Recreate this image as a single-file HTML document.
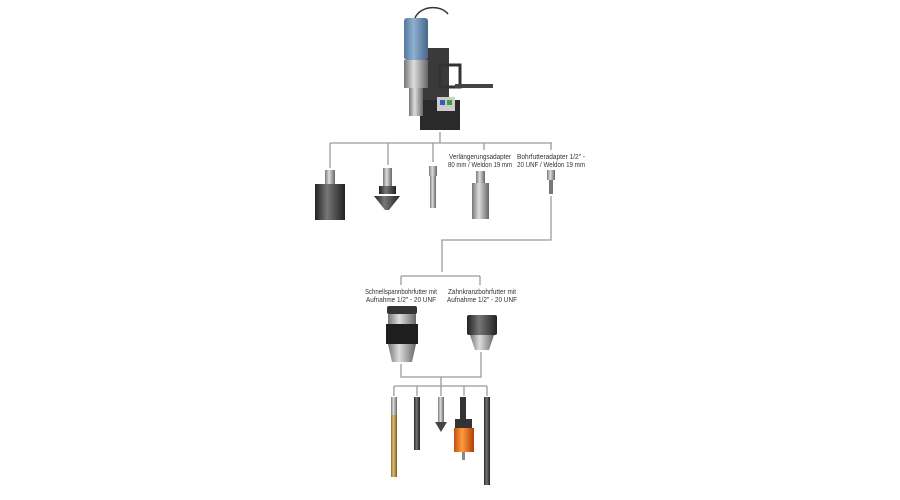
<!DOCTYPE html>
<html><head><meta charset="utf-8"><style>
html,body{margin:0;padding:0;background:#fff;}
svg{display:block}
text{font-family:"Liberation Sans",sans-serif;font-size:7px;fill:#333;text-anchor:middle}
</style></head><body>
<svg width="900" height="500" viewBox="0 0 900 500" xmlns="http://www.w3.org/2000/svg">
<defs>
<linearGradient id="st" x1="0" x2="1"><stop offset="0" stop-color="#777"/><stop offset=".4" stop-color="#ddd"/><stop offset="1" stop-color="#666"/></linearGradient>
<linearGradient id="dk" x1="0" x2="1"><stop offset="0" stop-color="#222"/><stop offset=".4" stop-color="#777"/><stop offset="1" stop-color="#222"/></linearGradient>
<linearGradient id="bl" x1="0" x2="1"><stop offset="0" stop-color="#5578a0"/><stop offset=".4" stop-color="#8fb0d0"/><stop offset="1" stop-color="#45658a"/></linearGradient>
<linearGradient id="gd" x1="0" x2="1"><stop offset="0" stop-color="#8a6a2a"/><stop offset=".4" stop-color="#e0c070"/><stop offset="1" stop-color="#7a5a20"/></linearGradient>
<linearGradient id="or" x1="0" x2="1"><stop offset="0" stop-color="#c05010"/><stop offset=".4" stop-color="#ff9a40"/><stop offset="1" stop-color="#b04000"/></linearGradient>
</defs>
<g stroke="#9a9a9a" stroke-width="1.3" fill="none">
<path d="M440 132V143M330 143H552M330 143V168M388 143V165M433 143V162M484 143V150M551 143V150"/>
<path d="M551 196V240H442V272M401 276H480M401 276V285M480 276V285"/>
<path d="M401 364V377H481V352M441 377V386M394 386H487M394 386V396M417 386V396M441 386V396M464 386V396M487 386V396"/>
</g>
<!-- drill machine -->
<path d="M415 18 C420 6 440 4 448 14" stroke="#333" stroke-width="1.5" fill="none"/>
<rect x="423" y="48" width="26" height="80" fill="#3a3a3a"/>
<path d="M440 65 h20 v22 h-20z" fill="none" stroke="#333" stroke-width="3"/>
<rect x="455" y="84" width="38" height="4" fill="#444"/>
<rect x="420" y="100" width="40" height="30" fill="#2a2a2a"/>
<rect x="437" y="97" width="18" height="14" fill="#ccc"/>
<rect x="440" y="100" width="5" height="5" fill="#3060b0"/><rect x="447" y="100" width="5" height="5" fill="#40a040"/>
<rect x="404" y="18" width="24" height="42" rx="3" fill="url(#bl)"/>
<rect x="404" y="60" width="24" height="28" fill="url(#st)"/>
<rect x="409" y="88" width="14" height="28" fill="url(#st)"/>
<!-- row 1 tools -->
<rect x="325" y="170" width="10" height="14" fill="url(#st)"/>
<rect x="315" y="184" width="30" height="36" fill="url(#dk)"/>
<rect x="383" y="168" width="9" height="18" fill="url(#st)"/>
<rect x="379" y="186" width="17" height="8" fill="url(#dk)"/>
<path d="M374 196 H400 L389 210 H385Z" fill="url(#dk)"/>
<rect x="429" y="166" width="8" height="10" fill="url(#st)"/>
<rect x="430" y="176" width="6" height="32" fill="url(#st)"/>
<rect x="476" y="171" width="9" height="12" fill="url(#st)"/>
<rect x="472" y="183" width="17" height="36" fill="url(#st)"/>
<rect x="547" y="170" width="8" height="10" fill="url(#st)"/>
<rect x="549" y="180" width="4" height="14" fill="#777"/>
<text x="480" y="159" textLength="62" lengthAdjust="spacingAndGlyphs">Verlängerungsadapter</text>
<text x="480" y="167" textLength="64" lengthAdjust="spacingAndGlyphs">80 mm / Weldon 19 mm</text>
<text x="551" y="159" textLength="68" lengthAdjust="spacingAndGlyphs">Bohrfutteradapter 1/2" -</text>
<text x="551" y="167" textLength="68" lengthAdjust="spacingAndGlyphs">20 UNF / Weldon 19 mm</text>
<!-- chucks -->
<text x="401" y="294" textLength="72" lengthAdjust="spacingAndGlyphs">Schnellspannbohrfutter mit</text>
<text x="401" y="302" textLength="70" lengthAdjust="spacingAndGlyphs">Aufnahme 1/2" - 20 UNF</text>
<text x="482" y="294" textLength="68" lengthAdjust="spacingAndGlyphs">Zahnkranzbohrfutter mit</text>
<text x="482" y="302" textLength="70" lengthAdjust="spacingAndGlyphs">Aufnahme 1/2" - 20 UNF</text>
<rect x="387" y="306" width="30" height="8" rx="2" fill="#333"/>
<rect x="388" y="314" width="28" height="10" fill="url(#st)"/>
<rect x="386" y="324" width="32" height="20" fill="#1e1e1e"/>
<path d="M388 344 H416 L412 362 H392Z" fill="url(#st)"/>
<rect x="467" y="315" width="30" height="20" rx="2" fill="url(#dk)"/>
<path d="M470 335 H494 L489 350 H475Z" fill="url(#st)"/>
<!-- bottom tools -->
<rect x="391" y="397" width="6" height="18" fill="url(#st)"/>
<rect x="391" y="415" width="6" height="62" fill="url(#gd)"/>
<rect x="414" y="397" width="6" height="53" fill="url(#dk)"/>
<rect x="438" y="397" width="6" height="25" fill="url(#st)"/>
<path d="M435 422 H447 L441 432Z" fill="#444"/>
<rect x="460" y="397" width="6" height="22" fill="#333"/>
<rect x="455" y="419" width="17" height="9" fill="#333"/>
<rect x="454" y="428" width="20" height="24" fill="url(#or)"/>
<rect x="462" y="452" width="3" height="8" fill="#888"/>
<rect x="484" y="397" width="6" height="88" fill="url(#dk)"/>
</svg>
</body></html>
